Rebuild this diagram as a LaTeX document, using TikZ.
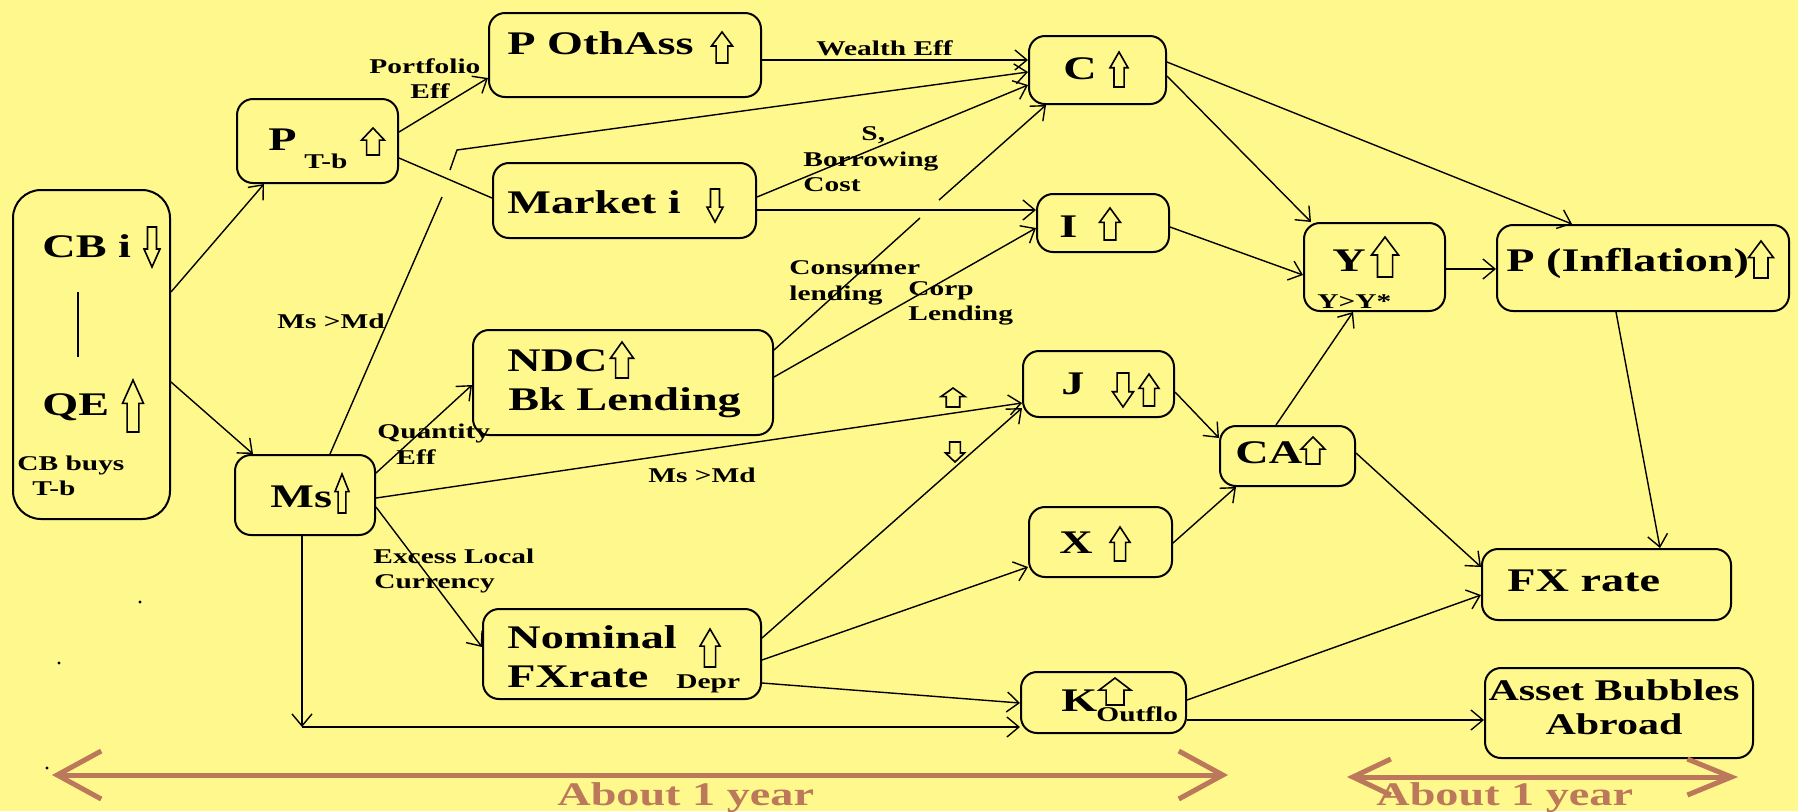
\documentclass[tikz,border=0pt]{standalone}
\usepackage{fontspec}
\setmainfont{Liberation Serif}[FakeStretch=1.4]
\usetikzlibrary{positioning,arrows.meta,calc,fit}
\definecolor{bgyellow}{RGB}{255,248,140}
\definecolor{periodbrown}{RGB}{188,120,90}
% outline block arrows: centre x, top y, bottom y, width (pixel units)
\newcommand{\blockup}[4]{\draw[line width=0.8pt] ({#1-0.28*#4},#3) -- ({#1-0.28*#4},{#2+0.45*(#3-#2)}) -- ({#1-0.5*#4},{#2+0.45*(#3-#2)}) -- (#1,#2) -- ({#1+0.5*#4},{#2+0.45*(#3-#2)}) -- ({#1+0.28*#4},{#2+0.45*(#3-#2)}) -- ({#1+0.28*#4},#3) -- cycle;}
\newcommand{\blockdn}[4]{\draw[line width=0.8pt] ({#1-0.28*#4},#2) -- ({#1-0.28*#4},{#3-0.45*(#3-#2)}) -- ({#1-0.5*#4},{#3-0.45*(#3-#2)}) -- (#1,#3) -- ({#1+0.5*#4},{#3-0.45*(#3-#2)}) -- ({#1+0.28*#4},{#3-0.45*(#3-#2)}) -- ({#1+0.28*#4},#2) -- cycle;}
\tikzset{
  box/.style={draw, line width=1pt, rounded corners=8pt, inner sep=0pt},
  big/.style={font=\fontsize{16.5}{19}\selectfont\bfseries, inner sep=0pt, anchor=base west},
  small/.style={font=\fontsize{10.5}{12.5}\selectfont\bfseries, inner sep=0pt, anchor=base west},
  plain/.style={line width=0.7pt},
  link/.style={plain, -{Straight Barb[length=6pt,width=10pt]}},
  period/.style={draw=periodbrown, line width=2.5pt}
}
\begin{document}
\begin{tikzpicture}[x=0.5pt,y=-0.5pt]
\useasboundingbox (0,0) rectangle (1798,811);
\fill[bgyellow] (0,0) rectangle (1798,811);
% boxes
\node[box,rounded corners=14pt,fit={(13,190) (170,519)}] (cb) {};
\node[box,fit={(237,99) (398,183)}] (ptb) {};
\node[box,fit={(489,13) (761,97)}] (oth) {};
\node[box,fit={(493,163) (756,238)}] (mkt) {};
\node[box,fit={(473,330) (773,435)}] (ndc) {};
\node[box,fit={(235,455) (375,535)}] (ms) {};
\node[box,fit={(483,609) (761,699)}] (nom) {};
\node[box,fit={(1029,36) (1166,104)}] (cons) {};
\node[box,fit={(1037,194) (1169,252)}] (inv) {};
\node[box,fit={(1023,351) (1174,417)}] (imp) {};
\node[box,fit={(1029,507) (1172,577)}] (expo) {};
\node[box,fit={(1021,672) (1186,733)}] (kout) {};
\node[box,fit={(1220,426) (1355,486)}] (ca) {};
\node[box,fit={(1304,223) (1445,311)}] (outp) {};
\node[box,fit={(1497,225) (1789,311)}] (infl) {};
\node[box,fit={(1482,549) (1731,620)}] (fx) {};
\node[box,fit={(1485,668) (1753,758)}] (bub) {};
% box texts
\node[big] (tcbi) at (42,257) {CB i};
\draw[plain] (78,292) -- (78,357);
\node[big] (tqe) at (42,415) {QE};
\node[small] (tbuys) at (17,470) {CB buys};
\node[small] (tbuystb) at (32,495) {T-b};
\node[big] (tp) at (268,150) {P};
\node[small] (tptb) at (304,168) {T-b};
\node[big] (toth) at (507,54) {P OthAss};
\node[big] (tmkt) at (507,213) {Market i};
\node[big] (tndc) at (507,371) {NDC};
\node[big] (tbkl) at (508,410) {Bk Lending};
\node[big] (tms) at (270,507) {Ms};
\node[big] (tnom) at (507,648) {Nominal};
\node[big] (tfxr) at (507,687) {FXrate};
\node[small] (tdepr) at (676,688) {Depr};
\node[big] (tc) at (1063,79) {C};
\node[big] (ti) at (1059,237) {I};
\node[big] (tj) at (1061,394) {J};
\node[big] (tx) at (1059,553) {X};
\node[big] (tk) at (1061,711) {K};
\node[small] (toutflo) at (1096,721) {Outflo};
\node[big] (tca) at (1235,463) {CA};
\node[big] (ty) at (1332,271) {Y};
\node[small] (tyy) at (1317,308) {Y>Y*};
\node[big] (tinfl) at (1506,271) {P (Inflation)};
\node[big] (tfx) at (1507,591) {FX rate};
\node[big,font=\fontsize{15}{17}\selectfont\bfseries,anchor=base] (tbub) at (1614,700) {Asset Bubbles};
\node[big,font=\fontsize{15}{17}\selectfont\bfseries,anchor=base] (tabr) at (1614,734) {Abroad};
% block arrows
\blockdn{152}{227}{267}{16}
\blockup{133}{380}{432}{21}
\blockup{373}{128}{155}{23}
\blockup{722}{32}{63}{21}
\blockdn{715}{189}{222}{16}
\blockup{1119}{52}{87}{18}
\blockup{1110}{208}{240}{21}
\blockup{622}{342}{378}{23}
\blockdn{1123}{373}{407}{21}
\blockup{1149}{374}{406}{20}
\blockup{953}{388}{407}{24}
\blockdn{955}{442}{462}{19}
\blockup{1313}{437}{464}{24}
\blockup{1120}{527}{561}{20}
\blockup{710}{629}{667}{20}
\blockup{1115}{678}{705}{32}
\blockup{342}{474}{513}{14}
\blockup{1385}{237}{277}{27}
\blockup{1761}{241}{278}{25}
% link labels
\node[small] (lport) at (369,73) {Portfolio};
\node[small] (lporteff) at (410,98) {Eff};
\node[small] (lwealth) at (816,55) {Wealth Eff};
\node[small] (ls) at (861,140) {S,};
\node[small] (lborrow) at (803,166) {Borrowing};
\node[small] (lcost) at (803,191) {Cost};
\node[small] (lmsmd) at (277,328) {Ms >Md};
\node[small] (lquant) at (377,438) {Quantity};
\node[small] (lquanteff) at (396,464) {Eff};
\node[small] (lconsumer) at (789,274) {Consumer};
\node[small] (llending) at (789,300) {lending};
\node[small] (lcorp) at (908,295) {Corp};
\node[small] (lcorplend) at (908,320) {Lending};
\node[small] (lmsmd2) at (648,482) {Ms >Md};
\node[small] (lexcess) at (373,563) {Excess Local};
\node[small] (lcurr) at (374,588) {Currency};
% links
\coordinate (msgapa) at (442,197);
\coordinate (msgapb) at (450,170);
\coordinate (msbend) at (457,150);
\coordinate (ndcgapa) at (920,218);
\coordinate (ndcgapb) at (939,200);
\coordinate (msk) at (302,727);
\draw[link] (cb.east |- 0,292) -- (ptb.south -| 264,0);
\draw[link] (cb.east |- 0,382) -- (ms.north -| 253,0);
\draw[link] (ptb.east |- 0,132) -- (oth.west |- 0,78);
\draw[plain] (ptb.east |- 0,158) -- (mkt.west |- 0,198);
\draw[link] (oth.east |- 0,60) -- (cons.west |- 0,60);
\draw[plain] (ms.north -| 330,0) -- (msgapa);
\draw[link] (msgapb) -- (msbend) -- (cons.west |- 0,72);
\draw[link] (mkt.east |- 0,197) -- (cons.west |- 0,85);
\draw[link] (mkt.east |- 0,210) -- (inv.west |- 0,210);
\draw[plain] (ndc.east |- 0,350) -- (ndcgapa);
\draw[link] (ndcgapb) -- (cons.south -| 1046,0);
\draw[link] (ndc.east |- 0,377) -- (inv.west |- 0,228);
\draw[link] (ms.east |- 0,473) -- (ndc.west |- 0,385);
\draw[link] (ms.east |- 0,498) -- (imp.west |- 0,403);
\draw[link] (ms.east |- 0,507) -- (nom.west |- 0,647);
\draw[link] (ms.south -| msk) -- (msk);
\draw[link] (msk) -- (kout.west |- 0,727);
\draw[link] (nom.east |- 0,638) -- (imp.west |- 0,408);
\draw[link] (nom.east |- 0,660) -- (expo.west |- 0,567);
\draw[link] (nom.east |- 0,683) -- (kout.west |- 0,703);
\draw[link] (cons.east |- 0,76) -- (outp.north -| 1311,0);
\draw[link] (cons.east |- 0,62) -- (infl.north -| 1572,0);
\draw[link] (inv.east |- 0,227) -- (outp.west |- 0,275);
\draw[link] (imp.east |- 0,392) -- (ca.west |- 0,438);
\draw[link] (expo.east |- 0,543) -- (ca.south -| 1236,0);
\draw[link] (ca.north -| 1276,0) -- (outp.south -| 1353,0);
\draw[link] (outp.east |- 0,269) -- (infl.west |- 0,269);
\draw[link] (infl.south -| 1616,0) -- (fx.north -| 1660,0);
\draw[link] (ca.east |- 0,453) -- (fx.west |- 0,567);
\draw[link] (kout.east |- 0,700) -- (fx.west |- 0,595);
\draw[link] (kout.east |- 0,720) -- (bub.west |- 0,720);
% time spans
\coordinate (spanaa) at (52,775);
\coordinate (spanab) at (1228,775);
\coordinate (spanba) at (1347,777);
\coordinate (spanbb) at (1738,777);
\draw[period,{Straight Barb[length=22pt,width=24pt]}-{Straight Barb[length=22pt,width=24pt]}] (spanaa) -- (spanab);
\draw[period,{Straight Barb[length=19pt,width=18pt]}-{Straight Barb[length=22pt,width=18pt]}] (spanba) -- (spanbb);
\node[big,text=periodbrown] (tyeara) at (557,805) {About 1 year};
\node[big,text=periodbrown] (tyearb) at (1376,805) {About 1 year};
% stray specks
\fill (140,602) circle (0.8pt);
\fill (59,663) circle (0.8pt);
\fill (47,768) circle (0.8pt);
\end{tikzpicture}
\end{document}
